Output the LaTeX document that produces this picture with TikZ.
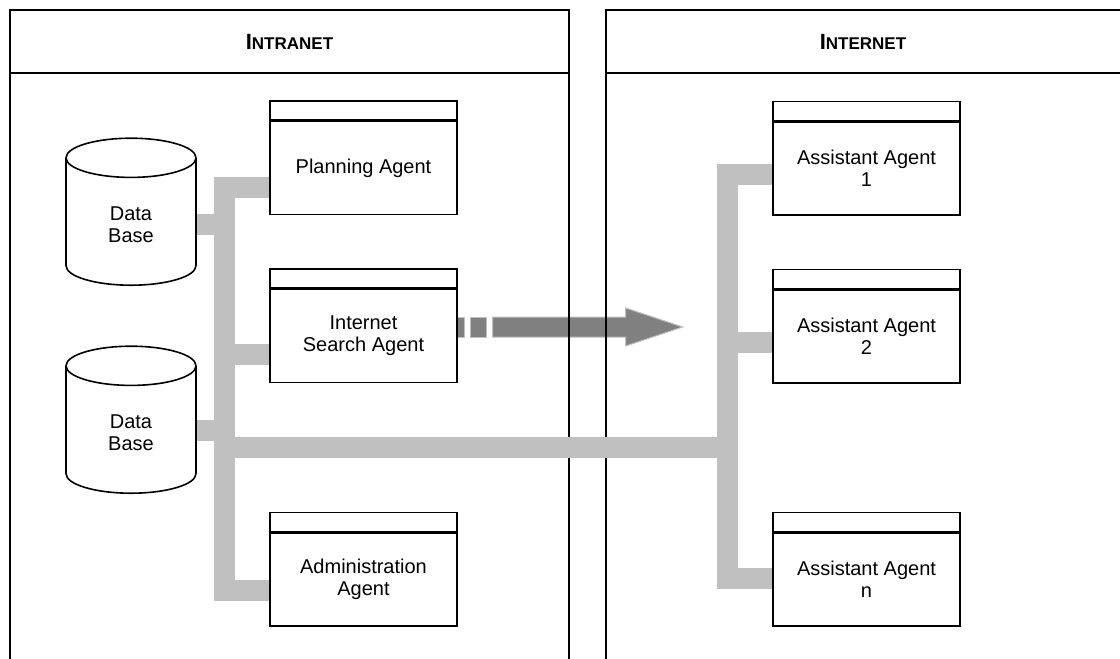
\documentclass[tikz,border=0pt]{standalone}
\usepackage{fontspec}
\setmainfont{Liberation Sans}
\usetikzlibrary{shapes.geometric,backgrounds}

\definecolor{busgray}{HTML}{C0C0C0}
\definecolor{arrowgray}{HTML}{808080}
\newcommand{\hdcaps}[2]{\bfseries\fontsize{22}{22}\selectfont #1\fontsize{17}{17}\selectfont #2}

\begin{document}
\begin{tikzpicture}[x=1pt,y=-1pt,
    agent/.style={draw,fill=white,line width=1.4pt,minimum width=187pt,minimum height=93pt,
      align=center,inner sep=2pt,font=\fontsize{20}{22}\selectfont,label={[agenthead]above:{}}},
    agenthead/.style={draw,fill=white,line width=1.4pt,minimum width=187pt,minimum height=19pt,inner sep=0pt},
    dbase/.style={cylinder,shape border rotate=90,aspect=0.75,draw,fill=white,line width=1.6pt,
      minimum width=130pt,minimum height=147pt,align=center,font=\fontsize{20}{22}\selectfont},
    frame/.style={line width=1.6pt},
    bus/.style={line width=21pt,draw=busgray},
    arrowbody/.style={fill=arrowgray,draw=busgray,line width=1pt}]
  \useasboundingbox (0,0) rectangle (1120,659);

  % headers
  \draw (289.5,42) node (intranet) {\hdcaps{I}{NTRANET}};
  \draw (863,42) node (internet) {\hdcaps{I}{NTERNET}};

  % intranet side
  \draw (131,225) node[dbase] (db1) {Data\\Base};
  \draw (131,433) node[dbase] (db2) {Data\\Base};
  \draw (363.5,168) node[agent] (plan) {Planning Agent};
  \draw (363.5,336) node[agent] (search) {Internet\\Search Agent};
  \draw (363.5,579.5) node[agent] (admin) {Administration\\Agent};

  % internet side
  \draw (866.5,168.5) node[agent] (ass1) {Assistant Agent\\1};
  \draw (866.5,336.5) node[agent] (ass2) {Assistant Agent\\2};
  \draw (866.5,579.5) node[agent] (assn) {Assistant Agent\\n};

  \coordinate (ltop) at (224.5,187);
  \coordinate (lbot) at (224.5,590.5);
  \coordinate (rtop) at (727,174.5);
  \coordinate (rbot) at (727,578.5);
  \coordinate (lsrch) at (224.5,354.5);
  \coordinate (rass2) at (727,342);
  \coordinate (ldb1) at (224.5,224);
  \coordinate (ldb2) at (224.5,430);
  \coordinate (lmain) at (224.5,447.5);
  \coordinate (rmain) at (727,447.5);

  \begin{scope}[on background layer]
    % striped arrow
    \begin{scope}[shift={([yshift=9pt]search.east)}]
      \draw[arrowbody] (0,-10) rectangle (7,10);
      \draw[arrowbody] (13,-10) rectangle (29,10);
      \draw[arrowbody] (35,-10) -- (168,-10) -- (168,-19) -- (225,0) -- (168,19) -- (168,10) -- (35,10) -- cycle;
    \end{scope}
    % frames
    \draw[frame] (10,659) -- (10,10) -- (569,10) -- (569,659);
    \draw[frame] (10,73) -- (569,73);
    \draw[frame] (1120,10) -- (606,10) -- (606,659);
    \draw[frame] (606,73) -- (1120,73);
    % bus
    \draw[bus] (plan.west |- ltop) -- (ltop) -- (lbot) -- (admin.west |- lbot);
    \draw[bus] (ass1.west |- rtop) -- (rtop) -- (rbot) -- (assn.west |- rbot);
    \draw[bus] (lmain) -- (rmain);
    \draw[bus] (lsrch) -- (search.west |- lsrch);
    \draw[bus] (rass2) -- (ass2.west |- rass2);
    \draw[bus] (ldb1) -- (db1.center |- ldb1);
    \draw[bus] (ldb2) -- (db2.center |- ldb2);
  \end{scope}
\end{tikzpicture}
\end{document}
